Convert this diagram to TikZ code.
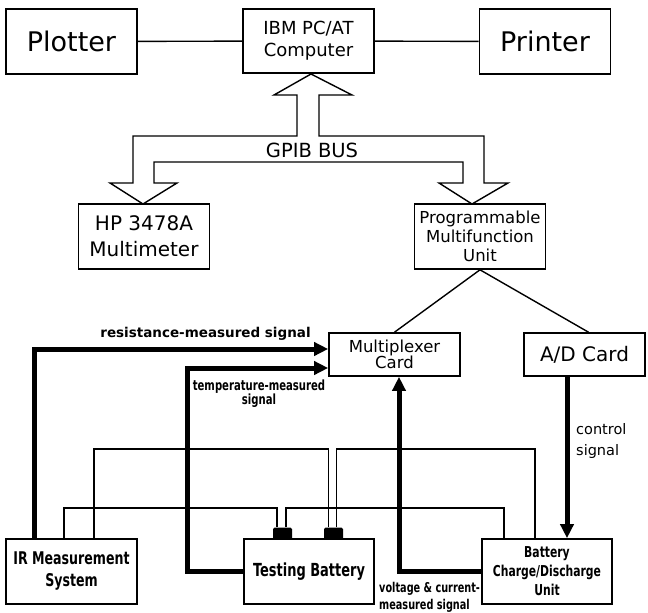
\documentclass[tikz,border=0pt]{standalone}
\usepackage{fontspec}
\setmainfont{DejaVu Sans}
\newfontfamily\narrowfont[FakeStretch=0.72]{DejaVu Sans}
\usetikzlibrary{arrows.meta,calc}

\tikzset{
  unit/.style={draw, line width=1.6pt, minimum width=131pt, minimum height=65pt, inner sep=0pt, align=center},
  sig/.style={line width=5pt, -{Triangle[length=14pt,width=13pt]}},
  wire/.style={line width=1.2pt},
  link/.style={line width=1.4pt},
  term/.style={fill=black, rounded corners=1.5pt, minimum width=19pt, minimum height=12pt, inner sep=0pt},
}

\begin{document}
\begin{tikzpicture}[x=1pt,y=-1pt]

\useasboundingbox (0,0) rectangle (648,613);

% computer and its peripherals
\node[unit,font=\fontsize{27}{30}\selectfont] (plotter) at (71.5,41.5) {Plotter};
\node[unit,minimum height=64pt,font=\fontsize{18}{22}\selectfont] (pc) at (308.5,41) {IBM PC/AT\\Computer};
\node[unit,font=\fontsize{27}{30}\selectfont] (printer) at (545,41.5) {Printer};

\draw[link] (plotter) -- (pc);
\draw[link] (pc) -- (printer);

% GPIB bus
\draw[link] (297,95) -- (274,95) -- (311,74) -- (352,95) -- (319,95) -- (319,136)
  -- (484,136) -- (484,183) -- (508,183) -- (472,204) -- (439,183) -- (463,183)
  -- (463,162) -- (154,162) -- (154,183) -- (177,183) -- (143,204) -- (110,183)
  -- (133,183) -- (133,136) -- (297,136) -- cycle;
\node[font=\fontsize{19.5}{22}\selectfont] (gpib) at (312,150) {GPIB BUS};

\node[unit,font=\fontsize{20}{26}\selectfont] (hp) at (144,236.5) {HP 3478A\\Multimeter};
\node[unit,font=\fontsize{16.5}{19}\selectfont] (pmu) at (480,236.5) {Programmable\\Multifunction\\Unit};

% cards
\node[unit,minimum height=43pt,font=\fontsize{16.5}{16}\selectfont] (mux) at (394.5,354.5) {Multiplexer\\Card};
\node[unit,minimum width=121pt,minimum height=43pt,font=\fontsize{20}{24}\selectfont] (adc) at (584.5,354.5) {A/D Card};

\draw[link] (pmu.south) -- (mux.north);
\draw[link] (pmu.south) -- ([xshift=4pt]adc.north);

% test bench
\node[unit,font=\narrowfont\bfseries\fontsize{17.5}{22}\selectfont] (ir) at (71.5,571.5) {IR Measurement\\System};
\node[unit,minimum width=130pt,font=\narrowfont\bfseries\fontsize{18}{22}\selectfont] (bat) at (309,571.5) {Testing Battery};
\node[unit,minimum width=130pt,font=\narrowfont\bfseries\fontsize{15}{19}\selectfont] (chg) at (547,571.5) {Battery\\Charge/Discharge\\Unit};

\node[term] (t1) at (282.5,533.5) {};
\node[term] (t2) at (333.5,533.5) {};

% thin wires to the terminals
\coordinate (hiW) at (0,449);
\coordinate (loW) at (0,508);
\draw[wire] ([xshift=22.5pt]ir.north) |- ([xshift=-5pt]t2.north |- hiW) -- ([xshift=-5pt]t2.north);
\draw[wire] ([xshift=3pt]t2.north) |- ([xshift=-12pt]chg.north |- hiW) -- ([xshift=-12pt]chg.north);
\draw[wire] ([xshift=-7.5pt]ir.north) |- ([xshift=-5.5pt]t1.north |- loW) -- ([xshift=-5.5pt]t1.north);
\draw[wire] ([xshift=3.5pt]t1.north) |- ([xshift=-43pt]chg.north |- loW) -- ([xshift=-43pt]chg.north);

% signals
\draw[sig] ([xshift=-37.5pt]ir.north) |- ([yshift=5.5pt]mux.west);
\draw[sig] (bat.west) -- ++(-56,0) |- ([yshift=-13.5pt]mux.west);
\draw[sig] (chg.west) -| ([xshift=4.5pt]mux.south);
\draw[sig] ([xshift=-17.5pt]adc.south) -- ([xshift=-17.5pt]adc.south |- chg.north);

\node[font=\bfseries\fontsize{13.5}{16}\selectfont] (reslbl) at (205.5,334) {resistance-measured signal};
\node[font=\narrowfont\bfseries\fontsize{14}{13}\selectfont,align=center] (templbl) at (259,393.5) {temperature-measured\\signal};
\node[font=\narrowfont\bfseries\fontsize{13.5}{17}\selectfont,align=left,anchor=north west,inner sep=0pt] (vilbl) at (379,582) {voltage \& current-\\measured signal};
\node[font=\fontsize{14.5}{21}\selectfont,align=left,anchor=west,inner sep=0pt] (ctllbl) at (576,441) {control\\signal};

\end{tikzpicture}
\end{document}
